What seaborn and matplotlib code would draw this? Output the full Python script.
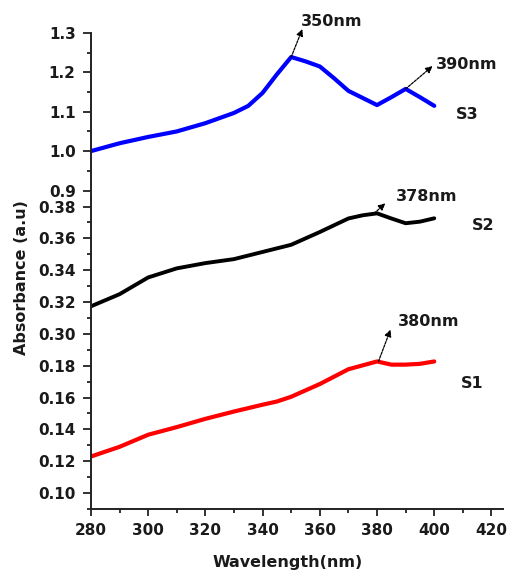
import matplotlib
matplotlib.use("Agg")
import matplotlib.pyplot as plt
from matplotlib.ticker import MultipleLocator
import seaborn as sns
import pandas as pd

# Absorption spectra of three samples (wavelength in nm, absorbance in a.u.)
wl_s3 = [280, 290, 300, 310, 320, 330, 335, 340, 345, 350, 355, 360, 365, 370, 375, 380, 385, 390, 395, 400]
abs_s3 = [1.000, 1.020, 1.036, 1.050, 1.071, 1.097, 1.115, 1.148, 1.195, 1.239, 1.228, 1.215, 1.185, 1.153,
          1.135, 1.117, 1.137, 1.158, 1.137, 1.115]

wl_s2 = [280, 290, 300, 310, 320, 330, 340, 350, 360, 370, 375, 380, 385, 390, 395, 400]
abs_s2 = [0.3174, 0.3250, 0.3355, 0.3412, 0.3445, 0.3470, 0.3515, 0.3560, 0.3640, 0.3725, 0.3745, 0.3757,
          0.3725, 0.3695, 0.3705, 0.3726]

wl_s1 = [280, 290, 300, 310, 320, 330, 340, 345, 350, 360, 370, 380, 385, 390, 395, 400]
abs_s1 = [0.1229, 0.1290, 0.1366, 0.1414, 0.1466, 0.1512, 0.1555, 0.1575, 0.1605, 0.1685, 0.1778, 0.1827,
          0.1807, 0.1807, 0.1812, 0.1827]

x_ticks = [280, 300, 320, 340, 360, 380, 400, 420]

sns.set_style("ticks")
plt.rcParams["font.family"] = ["DejaVu Sans"]
plt.rcParams["font.weight"] = "bold"

TXT = "#1a1a1a"
fig = plt.figure(figsize=(5.08, 5.75), dpi=100)

L, W = 0.179, 0.811
ax_top = fig.add_axes([L, 0.6539, W, 0.2887])
ax_mid = fig.add_axes([L, 0.3913, W, 0.2626])
ax_bot = fig.add_axes([L, 0.1148, W, 0.2765])

df3 = pd.DataFrame({"wl": wl_s3, "a": abs_s3})
df2 = pd.DataFrame({"wl": wl_s2, "a": abs_s2})
df1 = pd.DataFrame({"wl": wl_s1, "a": abs_s1})

sns.lineplot(data=df3, x="wl", y="a", ax=ax_top, color="#0000ff", lw=3.0)
sns.lineplot(data=df2, x="wl", y="a", ax=ax_mid, color="black", lw=2.8)
sns.lineplot(data=df1, x="wl", y="a", ax=ax_bot, color="#ff0000", lw=3.0)

ax_top.set_ylim(0.8784, 1.3)
ax_mid.set_ylim(0.29, 0.3847)
ax_bot.set_ylim(0.0899, 0.1899)

ax_top.yaxis.set_major_locator(MultipleLocator(0.1))
ax_top.yaxis.set_minor_locator(MultipleLocator(0.05))
ax_mid.yaxis.set_major_locator(MultipleLocator(0.02))
ax_mid.yaxis.set_minor_locator(MultipleLocator(0.01))
ax_bot.yaxis.set_major_locator(MultipleLocator(0.02))
ax_bot.yaxis.set_minor_locator(MultipleLocator(0.01))
ax_top.yaxis.set_major_formatter(plt.FormatStrFormatter("%.1f"))
ax_mid.yaxis.set_major_formatter(plt.FormatStrFormatter("%.2f"))
ax_bot.yaxis.set_major_formatter(plt.FormatStrFormatter("%.2f"))

for ax in (ax_top, ax_mid, ax_bot):
    ax.set_xlim(280, 424)
    ax.set_facecolor("none")
    ax.set_xlabel("")
    ax.set_ylabel("")
    for s in ("top", "right", "bottom"):
        ax.spines[s].set_visible(False)
    ax.spines["left"].set_linewidth(1.4)
    ax.spines["left"].set_color("#222222")
    ax.tick_params(axis="y", which="major", length=5.5, width=1.3, color="#222222",
                   labelsize=11, labelcolor=TXT, pad=5.5)
    ax.tick_params(axis="y", which="minor", length=3, width=1.3, color="#222222")
    for lab in ax.get_yticklabels():
        lab.set_fontweight("bold")

for ax in (ax_top, ax_mid):
    ax.tick_params(axis="x", which="both", bottom=False, labelbottom=False)

ax_bot.spines["bottom"].set_visible(True)
ax_bot.spines["bottom"].set_linewidth(1.4)
ax_bot.spines["bottom"].set_color("#222222")
ax_bot.set_xticks(x_ticks)
ax_bot.xaxis.set_minor_locator(MultipleLocator(10))
ax_bot.tick_params(axis="x", which="major", length=5, width=1.3, color="#222222",
                   labelsize=11, labelcolor=TXT, pad=5)
ax_bot.tick_params(axis="x", which="minor", length=3, width=1.3, color="#222222")
for lab in ax_bot.get_xticklabels():
    lab.set_fontweight("bold")

fig.text(0.566, 0.021, "Wavelength(nm)", ha="center", va="center", fontsize=11.5,
         fontweight="bold", color=TXT)
fig.text(0.043, 0.5165, "Absorbance (a.u)", ha="center", va="center", rotation=90,
         fontsize=11.5, fontweight="bold", color=TXT)

arrow = dict(arrowstyle="-|>", lw=0.9, linestyle=(0, (2, 1)), color="black",
             mutation_scale=10, shrinkA=0, shrinkB=0)

# peak markers
ax_top.annotate("", xy=(353.9, 1.310), xytext=(350, 1.239), arrowprops=arrow, annotation_clip=False)
ax_top.text(364, 1.328, "350nm", ha="center", va="center", fontsize=11.5, fontweight="bold",
            color=TXT, clip_on=False)
ax_top.annotate("", xy=(399.4, 1.216), xytext=(390, 1.158), arrowprops=arrow, annotation_clip=False)
ax_top.text(400.5, 1.219, "390nm", ha="left", va="center", fontsize=11.5, fontweight="bold",
            color=TXT, clip_on=False)
ax_mid.annotate("", xy=(382.9, 0.382), xytext=(379, 0.3757), arrowprops=arrow, annotation_clip=False)
ax_mid.text(397.5, 0.386, "378nm", ha="center", va="center", fontsize=11.5, fontweight="bold",
            color=TXT, clip_on=False)
ax_bot.annotate("", xy=(384.7, 0.2027), xytext=(380.5, 0.1827), arrowprops=arrow, annotation_clip=False)
ax_bot.text(398, 0.208, "380nm", ha="center", va="center", fontsize=11.5, fontweight="bold",
            color=TXT, clip_on=False)

# sample labels
ax_top.text(411.6, 1.092, "S3", ha="center", va="center", fontsize=11.5, fontweight="bold", color=TXT)
ax_mid.text(417.2, 0.3678, "S2", ha="center", va="center", fontsize=11.5, fontweight="bold", color=TXT)
ax_bot.text(413.4, 0.169, "S1", ha="center", va="center", fontsize=11.5, fontweight="bold", color=TXT)

fig.savefig("out.png", dpi=100)
